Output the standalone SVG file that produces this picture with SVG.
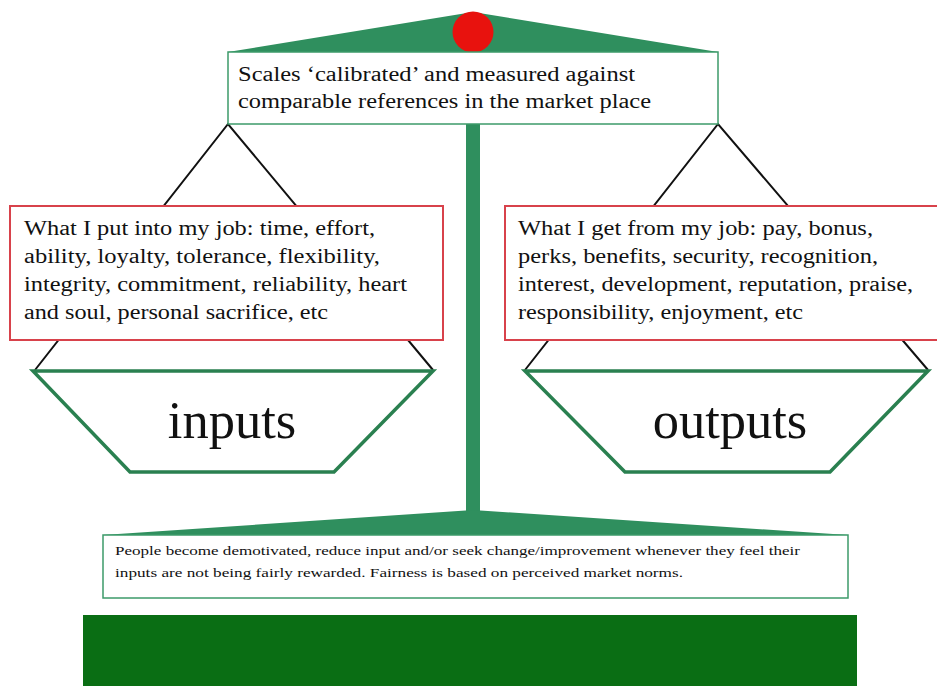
<svg xmlns="http://www.w3.org/2000/svg" width="937" height="686" viewBox="0 0 937 686">
<style>
.green{fill:#2f8f5e}
.tbox{fill:#fff;stroke:#3d9a6a;stroke-width:1.5}
.rbox{fill:#fff;stroke:#d8424b;stroke-width:2}
.pan{fill:#fff;stroke:#2a8050;stroke-width:3.5;stroke-linejoin:miter}
.hang{stroke:#111;stroke-width:2;fill:none}
text{font-family:'Liberation Serif','DejaVu Serif',serif;fill:#111}
.m{font-size:20.5px}
.big{font-size:52.5px}
.s{font-size:12.5px}
</style>
<rect width="937" height="686" fill="#fff"/>
<g id="connectors">
<polyline class="hang" points="35,370 228,124 433,370"/>
<polyline class="hang" points="525,370 718,124 928,370"/>
</g>
<g id="pole"><rect class="green" x="466" y="118" width="14" height="398"/></g>
<g id="beam">
<polygon class="green" points="473,12 718,52 228,52"/>
<circle cx="473" cy="32" r="20.5" fill="#e8120e"/>
</g>
<g id="top-box">
<rect class="tbox" x="228" y="52" width="490" height="72"/>
<text class="m" x="238" y="81" textLength="397" lengthAdjust="spacingAndGlyphs">Scales ‘calibrated’ and measured against</text>
<text class="m" x="238" y="108" textLength="413" lengthAdjust="spacingAndGlyphs">comparable references in the market place</text>
</g>
<g id="left-box">
<rect class="rbox" x="10" y="206" width="433" height="134"/>
<text class="m" x="24" y="235" textLength="351" lengthAdjust="spacingAndGlyphs">What I put into my job: time, effort,</text>
<text class="m" x="24" y="263" textLength="356" lengthAdjust="spacingAndGlyphs">ability, loyalty, tolerance, flexibility,</text>
<text class="m" x="24" y="291" textLength="383" lengthAdjust="spacingAndGlyphs">integrity, commitment, reliability, heart</text>
<text class="m" x="24" y="319" textLength="304" lengthAdjust="spacingAndGlyphs">and soul, personal sacrifice, etc</text>
</g>
<g id="right-box">
<rect class="rbox" x="505" y="206" width="440" height="134"/>
<text class="m" x="518" y="235" textLength="355" lengthAdjust="spacingAndGlyphs">What I get from my job: pay, bonus,</text>
<text class="m" x="518" y="263" textLength="360" lengthAdjust="spacingAndGlyphs">perks, benefits, security, recognition,</text>
<text class="m" x="518" y="291" textLength="395" lengthAdjust="spacingAndGlyphs">interest, development, reputation, praise,</text>
<text class="m" x="518" y="319" textLength="285" lengthAdjust="spacingAndGlyphs">responsibility, enjoyment, etc</text>
</g>
<g id="left-pan">
<polygon class="pan" points="33,371 433,371 334,472 130,472"/>
<text class="big" x="232" y="438" text-anchor="middle">inputs</text>
</g>
<g id="right-pan">
<polygon class="pan" points="525,371 928,371 830,472 625,472"/>
<text class="big" x="730" y="438" text-anchor="middle">outputs</text>
</g>
<g id="base-beam"><polygon class="green" points="473,510 848,535 103,535"/></g>
<g id="bottom-box">
<rect class="tbox" x="103" y="535" width="745" height="63"/>
<text class="s" x="115" y="555" textLength="685" lengthAdjust="spacingAndGlyphs">People become demotivated, reduce input and/or seek change/improvement whenever they feel their</text>
<text class="s" x="115" y="577" textLength="568" lengthAdjust="spacingAndGlyphs">inputs are not being fairly rewarded.  Fairness is based on perceived market norms.</text>
</g>
<g id="base"><rect x="83" y="615" width="774" height="71" fill="#0a6e14"/></g>
</svg>
